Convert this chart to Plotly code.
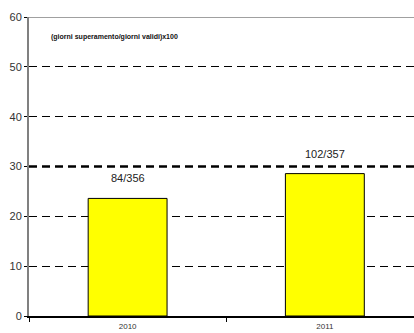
import plotly.graph_objects as go

# Exceedance days over valid days, per year
years = ["2010", "2011"]
days_over = [84, 102]
valid_days = [356, 357]
ratio_pct = [o / v * 100 for o, v in zip(days_over, valid_days)]
bar_labels = [f"{o}/{v}" for o, v in zip(days_over, valid_days)]
y_ticks = [0, 10, 20, 30, 40, 50, 60]
note = "(giorni superamento/giorni validi)x100"

narrow = "Liberation Sans Narrow, Arial Narrow, Liberation Sans, Arial, sans-serif"

fig = go.Figure(
    go.Bar(
        x=years,
        y=ratio_pct,
        width=0.4,
        marker=dict(color="#ffff00", line=dict(color="black", width=1)),
        hoverinfo="skip",
    )
)

# fraction labels floating above each bar (category index as x)
for i, (val, lab) in enumerate(zip(ratio_pct, bar_labels)):
    fig.add_annotation(
        x=i, y=val, text=lab, showarrow=False, yshift=20,
        font=dict(family=narrow, size=11, color="#222"),
    )

fig.add_annotation(
    xref="paper", x=0.052, y=56, xanchor="left", text=note, showarrow=False,
    font=dict(family=narrow, size=7, color="#111", weight=600),
)

# heavier dashed reference line at 30
fig.add_shape(
    type="line", xref="paper", x0=0, x1=1, y0=30, y1=30,
    line=dict(color="black", width=2.5, dash="8px,5px"),
)
# top frame line
fig.add_shape(
    type="line", xref="paper", x0=0, x1=1, y0=60, y1=60,
    line=dict(color="#808080", width=1.5),
)

fig.update_layout(
    width=414, height=333,
    margin=dict(l=29, r=0, t=17, b=17),
    paper_bgcolor="white", plot_bgcolor="white",
    showlegend=False,
    xaxis=dict(
        type="category", range=[-0.5, 1.452], automargin=False,
        showline=True, linecolor="black", linewidth=1.5,
        ticks="outside", tickson="boundaries", ticklen=4, tickcolor="black",
        tickfont=dict(family=narrow, size=8, color="#333"),
        ticklabelstandoff=2,
        showgrid=False,
    ),
    yaxis=dict(
        range=[0, 60], tickvals=y_ticks, automargin=False,
        showline=True, linecolor="#808080", linewidth=2,
        ticks="outside", ticklen=3, tickcolor="black",
        tickfont=dict(family=narrow, size=11, color="#333"),
        showgrid=True, gridcolor="black", gridwidth=1, griddash="8px,5px",
        zeroline=False,
    ),
)

fig.write_html("out.html")
